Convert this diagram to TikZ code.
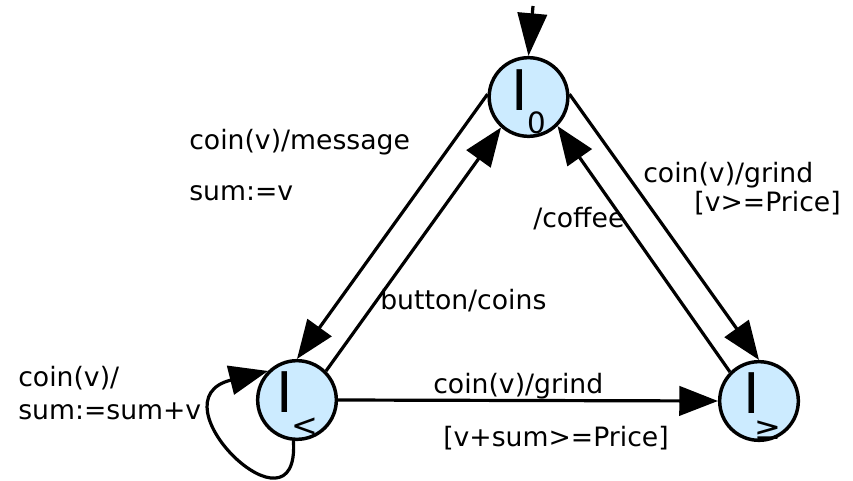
\documentclass[tikz,border=0pt]{standalone}
\usepackage{fontspec}
\setmainfont{DejaVu Sans}
\usetikzlibrary{arrows.meta}
\definecolor{stfill}{RGB}{204,235,255}
\begin{document}
\begin{tikzpicture}[x=0.75pt,y=-0.75pt,
  st/.style={circle,draw=black,line width=2.6pt,fill=stfill,minimum size=59pt,inner sep=0pt},
  edge/.style={line width=2.4pt,-{Triangle[length=29pt,width=22pt]}},
  initedge/.style={line width=2.4pt,-{Triangle[length=32pt,width=22pt]}},
  lab/.style={font=\fontsize{20}{24}\selectfont,inner sep=0pt,anchor=base west},
  labr/.style={font=\fontsize{20}{24}\selectfont,inner sep=0pt,anchor=base east},
  bigI/.style={font=\fontsize{42}{42}\selectfont,inner sep=0pt,anchor=center},
  subl/.style={font=\fontsize{22}{22}\selectfont,inner sep=0pt,anchor=center},
  subm/.style={font=\fontsize{24}{24}\selectfont,inner sep=0pt,anchor=center}]
\useasboundingbox (0,0) rectangle (853,481);
% states
\node[st] (q0) at (528.5,97) {};
\node[st] (ql) at (297,400) {};
\node[st] (qg) at (759,401) {};
\node[bigI] (q0I) at (520,90) {I};
\node[subl] (q0s) at (536.5,123) {0};
\node[bigI] (qlI) at (285,392) {I};
\node[subm] (qls) at (305,427) {<};
\node[bigI] (qgI) at (752,393.5) {I};
\node[subm] (qgs) at (768,430) {≥};
\coordinate (init) at (533,6);
% connectors
\draw[initedge] (init) -- (q0.north);
\draw[edge] (q0.176) -- (ql.north);
\draw[edge] (ql.45) -- (q0.228);
\draw[edge] (q0.4) -- (qg.north);
\draw[edge] (qg.135) -- (q0.-45);
\draw[edge] (ql.east) -- (qg.west);
\draw[edge] (ql.-95) .. controls (300,545) and (150,400) .. (ql.135);
% labels
\node[lab] (t1) at (189,150) {coin(v)/message};
\node[lab] (t2) at (189,200) {sum:=v};
\node[lab] (t3) at (643,183) {coin(v)/grind};
\node[labr] (t4) at (841,211) {[v>=Price]};
\node[lab] (t5) at (533,227) {/coffee};
\node[lab] (t6) at (380,309) {button/coins};
\node[lab] (t7) at (433,393) {coin(v)/grind};
\node[lab] (t8) at (443,446) {[v+sum>=Price]};
\node[lab] (t9) at (18,386) {coin(v)/};
\node[lab] (t10) at (18,419) {sum:=sum+v};
\end{tikzpicture}
\end{document}
